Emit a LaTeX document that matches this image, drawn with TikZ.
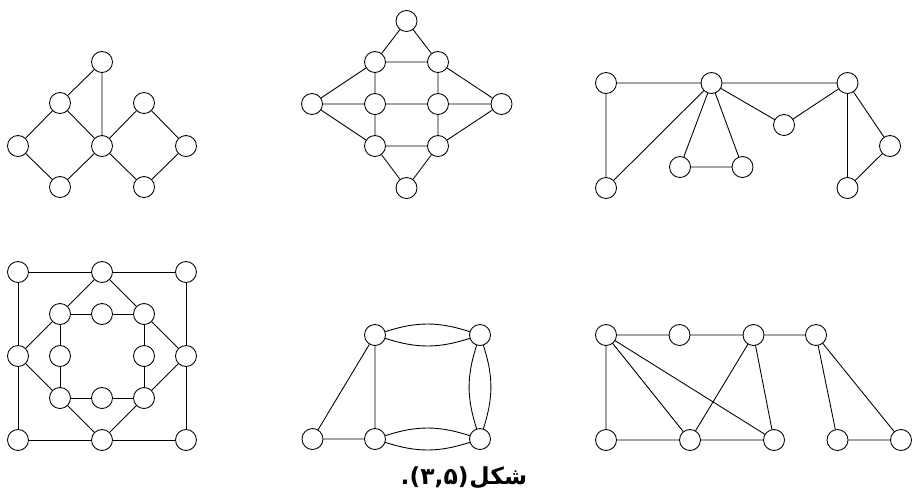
\documentclass[tikz,border=0pt]{standalone}
\usepackage{fontspec}
\newfontfamily\arabicfont[Script=Arabic]{DejaVu Sans}
\newfontfamily\numfont{DejaVu Sans}
\TeXXeTstate=1
\tikzset{
  vtx/.style={draw,circle,fill=white,minimum size=0.63cm,inner sep=0pt},
  captext/.style={inner sep=0pt,font=\bfseries\fontsize{20}{23}\selectfont},
}
\begin{document}
\begin{tikzpicture}[line cap=round,line join=round,x=0.03cm,y=-0.03cm,line width=0.75pt]
\useasboundingbox (0,0) rectangle (912,494);
\node[vtx] (a1) at (102,62) {};
\node[vtx] (a2) at (60,103) {};
\node[vtx] (a3) at (144,103) {};
\node[vtx] (a4) at (18,146) {};
\node[vtx] (a5) at (102,146) {};
\node[vtx] (a6) at (186,146) {};
\node[vtx] (a7) at (60,187) {};
\node[vtx] (a8) at (144,187) {};
\draw (a1)--(a2) (a1)--(a5) (a2)--(a4) (a2)--(a5) (a4)--(a7) (a7)--(a5);
\draw (a5)--(a3) (a3)--(a6) (a6)--(a8) (a8)--(a5);

\node[vtx] (b1) at (406.5,21) {};
\node[vtx] (b2) at (375,62) {};
\node[vtx] (b3) at (438,62) {};
\node[vtx] (b4) at (312,104) {};
\node[vtx] (b5) at (375,104) {};
\node[vtx] (b6) at (438,104) {};
\node[vtx] (b7) at (501.5,104) {};
\node[vtx] (b8) at (375,146) {};
\node[vtx] (b9) at (438,146) {};
\node[vtx] (b10) at (406.5,188) {};
\draw (b1)--(b2) (b1)--(b3) (b2)--(b3) (b2)--(b5) (b3)--(b6);
\draw (b4)--(b2) (b4)--(b5) (b4)--(b8) (b5)--(b6) (b6)--(b7) (b3)--(b7) (b9)--(b7);
\draw (b8)--(b9) (b5)--(b8) (b6)--(b9) (b8)--(b10) (b9)--(b10);

\node[vtx] (c1) at (606,83) {};
\node[vtx] (c2) at (711.5,83) {};
\node[vtx] (c3) at (847.5,83) {};
\node[vtx] (c4) at (784,125) {};
\node[vtx] (c5) at (890,146) {};
\node[vtx] (c6) at (680,167) {};
\node[vtx] (c7) at (742.5,167) {};
\node[vtx] (c8) at (606,188) {};
\node[vtx] (c9) at (847.5,188) {};
\draw (c1)--(c2) (c1)--(c8) (c8)--(c2) (c2)--(c6) (c2)--(c7) (c6)--(c7);
\draw (c2)--(c3) (c2)--(c4) (c4)--(c3) (c3)--(c9) (c3)--(c5) (c5)--(c9);

\node[vtx] (d1) at (18,272) {};
\node[vtx] (d2) at (102,272) {};
\node[vtx] (d3) at (186,272) {};
\node[vtx] (d4) at (60,314) {};
\node[vtx] (d5) at (102,314) {};
\node[vtx] (d6) at (144,314) {};
\node[vtx] (d7) at (18,356) {};
\node[vtx] (d8) at (60,356) {};
\node[vtx] (d9) at (144,356) {};
\node[vtx] (d10) at (186,356) {};
\node[vtx] (d11) at (60,398) {};
\node[vtx] (d12) at (102,398) {};
\node[vtx] (d13) at (144,398) {};
\node[vtx] (d14) at (18,440) {};
\node[vtx] (d15) at (102,440) {};
\node[vtx] (d16) at (186,440) {};
\draw (d1)--(d2)--(d3) (d1)--(d7)--(d14) (d14)--(d15)--(d16) (d3)--(d10)--(d16);
\draw (d2)--(d4) (d2)--(d6) (d4)--(d7) (d7)--(d11) (d11)--(d15) (d15)--(d13) (d13)--(d10) (d10)--(d6);
\draw (d4)--(d5)--(d6) (d4)--(d8)--(d11) (d11)--(d12)--(d13) (d6)--(d9)--(d13);

\node[vtx] (e1) at (375,335) {};
\node[vtx] (e2) at (480,335) {};
\node[vtx] (e3) at (312.5,439) {};
\node[vtx] (e4) at (375,439) {};
\node[vtx] (e5) at (480,439) {};
\draw (e3)--(e1) (e3)--(e4) (e1)--(e4);
\draw (e1) to[bend left=18] (e2) (e1) to[bend right=18] (e2);
\draw (e2) to[bend left=18] (e5) (e2) to[bend right=18] (e5);
\draw (e4) to[bend left=18] (e5) (e4) to[bend right=18] (e5);

\node[vtx] (f1) at (606,335) {};
\node[vtx] (f2) at (679.5,335) {};
\node[vtx] (f3) at (753.5,335) {};
\node[vtx] (f4) at (816,335) {};
\node[vtx] (f5) at (606,440) {};
\node[vtx] (f6) at (690,440) {};
\node[vtx] (f7) at (774,440) {};
\node[vtx] (f8) at (837.5,440) {};
\node[vtx] (f9) at (901,440) {};
\draw (f1)--(f2)--(f3)--(f4) (f1)--(f5) (f1)--(f6) (f1)--(f7) (f3)--(f6) (f3)--(f7);
\draw (f5)--(f6)--(f7) (f4)--(f8) (f4)--(f9) (f8)--(f9);

\node[captext,anchor=base east] (capnum) at (469,484) {\numfont\bfseries .(۳,۵)};
\node[captext,anchor=base west] (capword) at (capnum.base east) {\arabicfont\bfseries\beginR شکل\endR};
\end{tikzpicture}
\end{document}
